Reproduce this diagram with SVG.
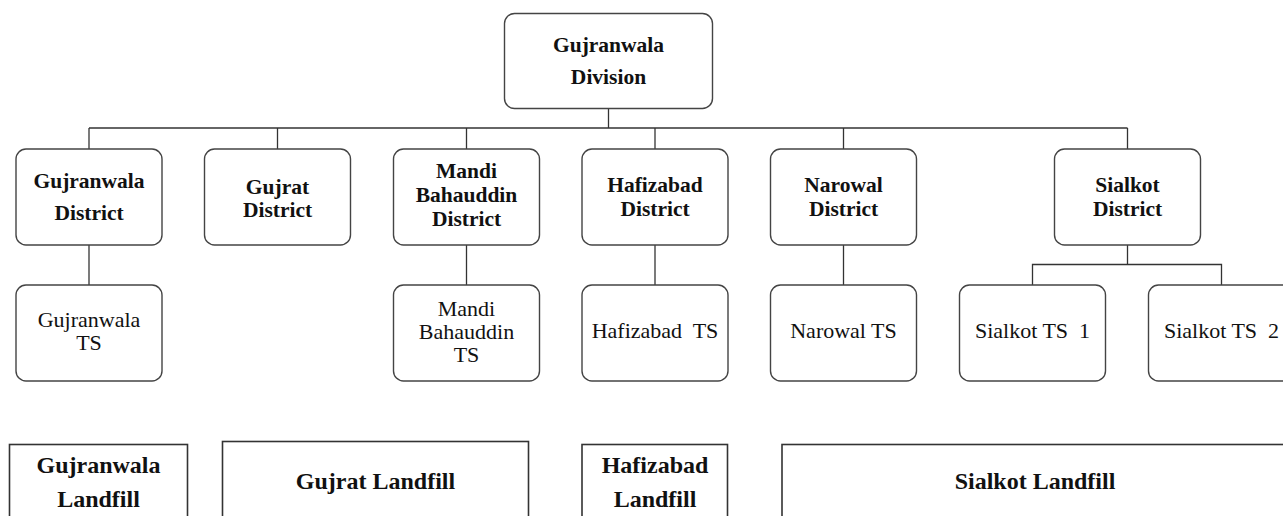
<svg xmlns="http://www.w3.org/2000/svg" width="1283" height="516" viewBox="0 0 1283 516">
  <style>
    .box { fill: #ffffff; stroke: #444444; stroke-width: 1.4; }
    .lf { fill: #ffffff; stroke: #333333; stroke-width: 1.6; }
    .wire { fill: none; stroke: #333333; stroke-width: 1.3; }
    text { font-family: "Liberation Serif", "Times New Roman", serif; fill: #111111; text-anchor: middle; }
    .b { font-weight: bold; font-size: 21.5px; }
    .r { font-size: 22px; }
    .lt { font-weight: bold; font-size: 24px; }
  </style>
  <rect width="1283" height="516" fill="#ffffff"/>

  <!-- connectors -->
  <g id="connectors" class="wire">
    <polyline points="608.5,109 608.5,128"/>
    <polyline points="89,128 1127.5,128"/>
    <polyline points="89,128 89,149"/>
    <polyline points="277.5,128 277.5,149"/>
    <polyline points="466.5,128 466.5,149"/>
    <polyline points="655,128 655,149"/>
    <polyline points="843.5,128 843.5,149"/>
    <polyline points="1127.5,128 1127.5,149"/>
    <polyline points="89,245 89,285"/>
    <polyline points="466.5,245 466.5,285"/>
    <polyline points="655,245 655,285"/>
    <polyline points="843.5,245 843.5,285"/>
    <polyline points="1127.5,245 1127.5,264.5"/>
    <polyline points="1032.5,285 1032.5,264.5 1221.5,264.5 1221.5,285"/>
  </g>

  <!-- root -->
  <g id="division">
    <rect class="box" x="504.5" y="13.5" width="208" height="95" rx="10"/>
    <text class="b" x="608.5" y="52">Gujranwala</text>
    <text class="b" x="608.5" y="84">Division</text>
  </g>

  <!-- districts -->
  <g id="gujranwala-district">
    <rect class="box" x="16" y="149" width="146" height="96" rx="10"/>
    <text class="b" x="89" y="188">Gujranwala</text>
    <text class="b" x="89" y="220">District</text>
  </g>
  <g id="gujrat-district">
    <rect class="box" x="204.5" y="149" width="146" height="96" rx="10"/>
    <text class="b" x="277.5" y="194">Gujrat</text>
    <text class="b" x="277.5" y="217">District</text>
  </g>
  <g id="mandi-district">
    <rect class="box" x="393.5" y="149" width="146" height="96" rx="10"/>
    <text class="b" x="466.5" y="178">Mandi</text>
    <text class="b" x="466.5" y="202">Bahauddin</text>
    <text class="b" x="466.5" y="226">District</text>
  </g>
  <g id="hafizabad-district">
    <rect class="box" x="582" y="149" width="146" height="96" rx="10"/>
    <text class="b" x="655" y="192">Hafizabad</text>
    <text class="b" x="655" y="216">District</text>
  </g>
  <g id="narowal-district">
    <rect class="box" x="770.5" y="149" width="146" height="96" rx="10"/>
    <text class="b" x="843.5" y="192">Narowal</text>
    <text class="b" x="843.5" y="216">District</text>
  </g>
  <g id="sialkot-district">
    <rect class="box" x="1054.5" y="149" width="146" height="96" rx="10"/>
    <text class="b" x="1127.5" y="192">Sialkot</text>
    <text class="b" x="1127.5" y="216">District</text>
  </g>

  <!-- transfer stations -->
  <g id="gujranwala-ts">
    <rect class="box" x="16" y="285" width="146" height="96" rx="10"/>
    <text class="r" x="89" y="327">Gujranwala</text>
    <text class="r" x="89" y="350">TS</text>
  </g>
  <g id="mandi-ts">
    <rect class="box" x="393.5" y="285" width="146" height="96" rx="10"/>
    <text class="r" x="466.5" y="316">Mandi</text>
    <text class="r" x="466.5" y="339">Bahauddin</text>
    <text class="r" x="466.5" y="362">TS</text>
  </g>
  <g id="hafizabad-ts">
    <rect class="box" x="582" y="285" width="146" height="96" rx="10"/>
    <text class="r" x="655" y="338" xml:space="preserve">Hafizabad  TS</text>
  </g>
  <g id="narowal-ts">
    <rect class="box" x="770.5" y="285" width="146" height="96" rx="10"/>
    <text class="r" x="843.5" y="338">Narowal TS</text>
  </g>
  <g id="sialkot-ts-1">
    <rect class="box" x="959.5" y="285" width="146" height="96" rx="10"/>
    <text class="r" x="1032.5" y="338" xml:space="preserve">Sialkot TS  1</text>
  </g>
  <g id="sialkot-ts-2">
    <rect class="box" x="1148.5" y="285" width="146" height="96" rx="10"/>
    <text class="r" x="1221.5" y="338" xml:space="preserve">Sialkot TS  2</text>
  </g>

  <!-- landfills -->
  <g id="gujranwala-landfill">
    <rect class="lf" x="9.5" y="444.5" width="178" height="90"/>
    <text class="lt" x="98.5" y="473">Gujranwala</text>
    <text class="lt" x="98.5" y="507">Landfill</text>
  </g>
  <g id="gujrat-landfill">
    <rect class="lf" x="222.5" y="441.5" width="306" height="93"/>
    <text class="lt" x="375.5" y="489">Gujrat Landfill</text>
  </g>
  <g id="hafizabad-landfill">
    <rect class="lf" x="582" y="444.5" width="145.5" height="90"/>
    <text class="lt" x="655" y="473">Hafizabad</text>
    <text class="lt" x="655" y="507">Landfill</text>
  </g>
  <g id="sialkot-landfill">
    <rect class="lf" x="782" y="444.5" width="520" height="90"/>
    <text class="lt" x="1035" y="489">Sialkot Landfill</text>
  </g>
</svg>
